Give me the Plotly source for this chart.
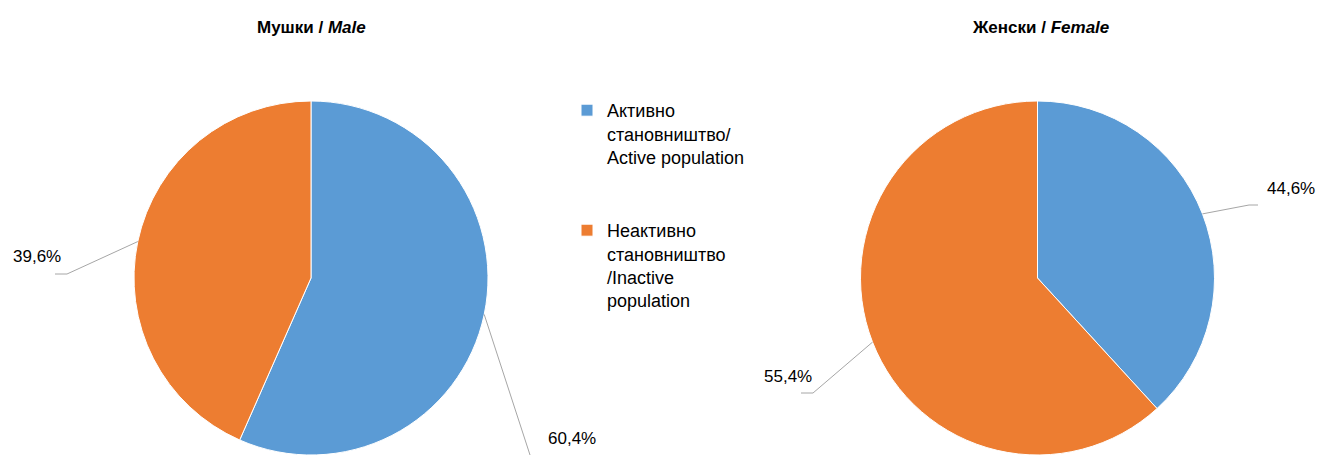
import math
import plotly.graph_objects as go

W, H = 1319, 455

# ---- data ----
categories = ["Активно<br>становништво/<br>Active population<br> <br> ",
              "Неактивно<br>становништво<br>/Inactive<br>population"]
male_values = [56.6, 43.4]          # slice shares as drawn
female_values = [38.2, 61.8]
male_labels = ["60,4%", "39,6%"]    # printed data labels
female_labels = ["44,6%", "55,4%"]
titles = ["<b>Мушки / <i>Male</i></b>", "<b>Женски / <i>Female</i></b>"]
colors = ["#5B9BD5", "#ED7D31"]

FONT = "Liberation Sans, Arial, sans-serif"

# ---- layout constants (pixels) ----
pies = [
    dict(cx=311, cy=278, r=177, values=male_values, texts=male_labels, title=titles[0],
         tx=311,
         # per slice: bend point, line end, label centre
         leaders=[((531, 458), (531, 458), (572, 438)),
                  ((67, 274), (55, 274), (37, 256))]),
    dict(cx=1037.5, cy=278, r=177, values=female_values, texts=female_labels, title=titles[1],
         tx=1040,
         leaders=[((1249, 205), (1258, 205), (1291, 188)),
                  ((813, 393), (801, 393), (788, 376))]),
]


def px(x):
    return x / W


def py(y):
    return 1 - y / H


fig = go.Figure()
shapes, annotations = [], []
for i, p in enumerate(pies):
    fig.add_trace(go.Pie(
        labels=categories, values=p["values"], sort=False, direction="clockwise",
        rotation=0, textinfo="none", hoverinfo="label+percent",
        marker=dict(colors=colors, line=dict(color="white", width=1)),
        domain=dict(x=[px(p["cx"] - p["r"]), px(p["cx"] + p["r"])],
                    y=[py(p["cy"] + p["r"]), py(p["cy"] - p["r"])]),
        showlegend=(i == 0),
    ))
    annotations.append(dict(x=px(p["tx"]), y=py(27), xref="paper", yref="paper",
                            text=p["title"], showarrow=False, xanchor="center",
                            yanchor="middle", font=dict(family=FONT, size=17, color="#000")))
    total = sum(p["values"])
    start = 0.0
    for v, t, (bend, end, lab) in zip(p["values"], p["texts"], p["leaders"]):
        mid = (start + v / 2) / total * 2 * math.pi
        start += v
        sx = p["cx"] + p["r"] * math.sin(mid)
        sy = p["cy"] - p["r"] * math.cos(mid)
        path = f"M {px(sx)},{py(sy)} L {px(bend[0])},{py(bend[1])} L {px(end[0])},{py(end[1])}"
        shapes.append(dict(type="path", xref="paper", yref="paper", path=path,
                           line=dict(color="#A6A6A6", width=1)))
        annotations.append(dict(x=px(lab[0]), y=py(lab[1]), xref="paper", yref="paper",
                                text=t, showarrow=False, xanchor="center", yanchor="middle",
                                font=dict(family=FONT, size=17, color="#000")))

fig.update_layout(
    width=W, height=H, margin=dict(l=0, r=0, t=0, b=0),
    paper_bgcolor="white", plot_bgcolor="white",
    font=dict(family=FONT, size=18, color="#000"),
    shapes=shapes, annotations=annotations,
    legend=dict(x=px(567), y=py(92), xanchor="left", yanchor="top", valign="top",
                font=dict(family=FONT, size=18, color="#000"),
                bgcolor="rgba(0,0,0,0)", itemwidth=30),
)

fig.write_html("out.html", config={"displayModeBar": False},
               post_script="document.body.style.margin='0';document.body.style.overflow='hidden';")
